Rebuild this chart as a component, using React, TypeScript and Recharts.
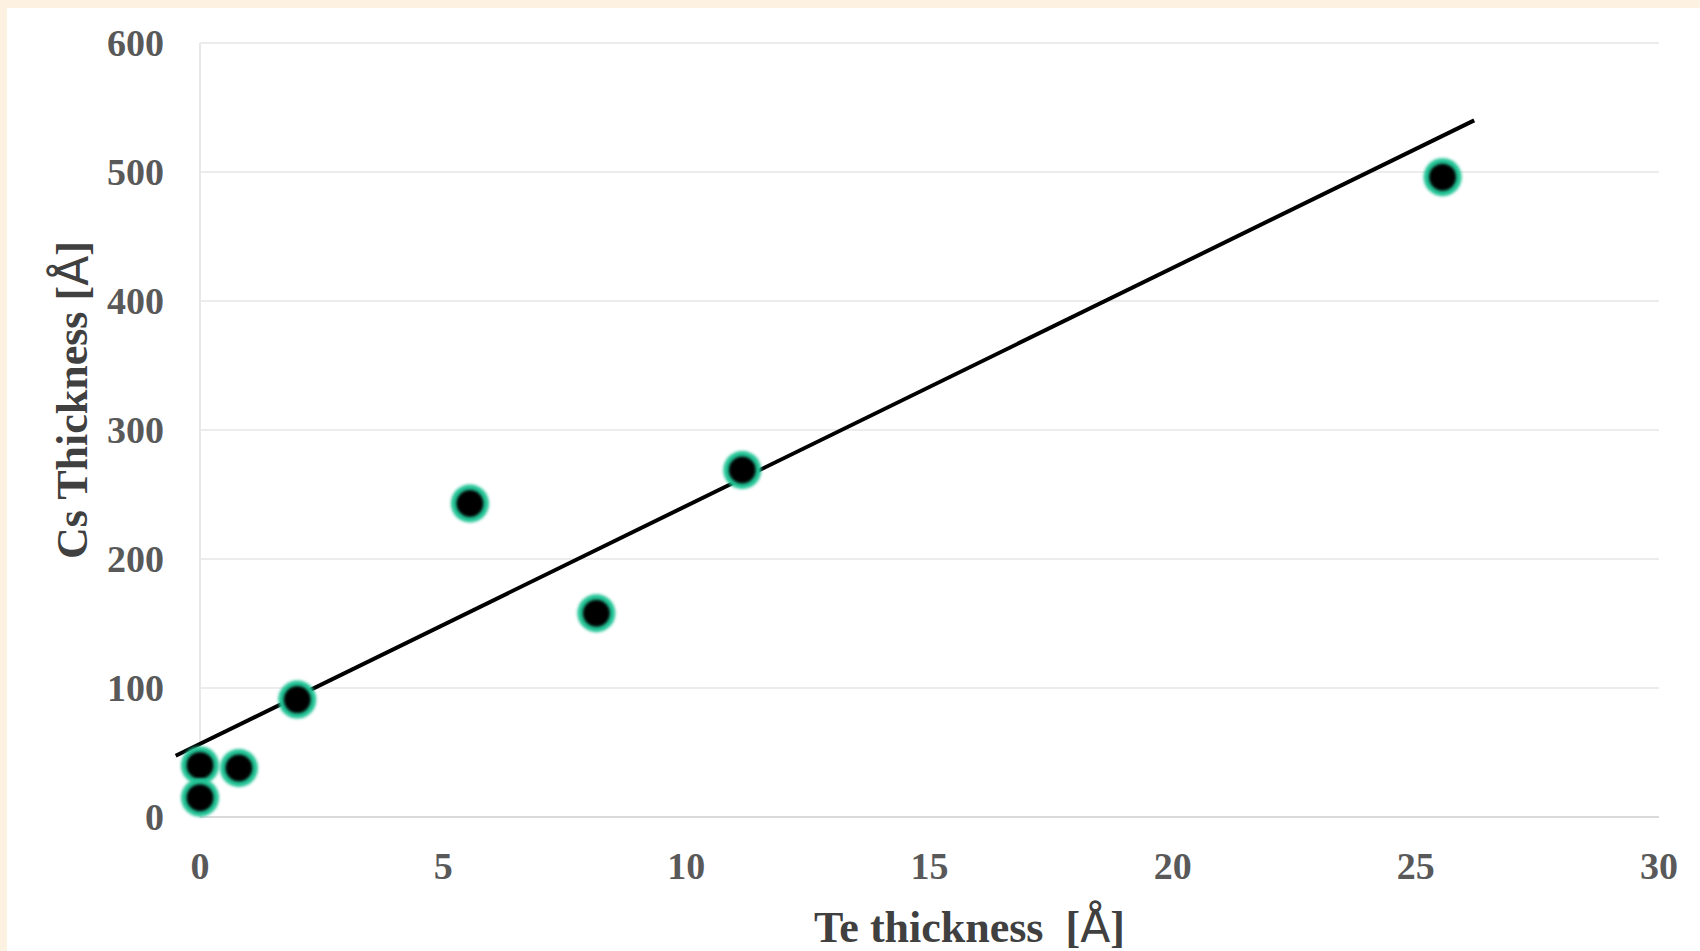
import React from 'react';
import { ScatterChart, Scatter, XAxis, YAxis, CartesianGrid, ReferenceLine } from 'recharts';

// Te thickness [Å] vs Cs thickness [Å]
const teThickness = [0, 0, 0.8, 2.0, 5.55, 8.15, 11.15, 25.55];
const csThickness = [40, 15, 38, 91, 243, 158, 269, 496];

// fitted trendline end points
const trendX = [-0.5, 26.2];
const trendY = [47.5, 540];

const xTicks = [0, 5, 10, 15, 20, 25, 30];
const yTicks = [0, 100, 200, 300, 400, 500, 600];

const points = teThickness.map((x, i) => ({ x, y: csThickness[i] }));
const trendSegment = trendX.map((x, i) => ({ x, y: trendY[i] }));

const serif = '"Liberation Serif", "Times New Roman", serif';
const tickStyle = { fontFamily: serif, fontWeight: 700, fontSize: 38, fill: '#595959' };

const Dot = (props: any) => {
  const { cx, cy, index } = props;
  if (cx == null || cy == null) return null;
  const id = `glow-${index}`;
  return (
    <g>
      <defs>
        <filter id={id} x="-50%" y="-50%" width="200%" height="200%">
          <feGaussianBlur stdDeviation="1.6" />
        </filter>
      </defs>
      <circle cx={cx} cy={cy} r={19} fill="#22c496" filter={`url(#${id})`} />
      <circle cx={cx} cy={cy} r={13.5} fill="#000" filter={`url(#${id})`} />
    </g>
  );
};

const YTitle = (props: any) => {
  const { viewBox } = props;
  const cx = viewBox.x + 72;
  const cy = viewBox.y + 357;
  return (
    <text
      x={cx}
      y={cy}
      transform={`rotate(-90 ${cx} ${cy})`}
      textAnchor="middle"
      dominantBaseline="central"
      fontFamily={serif}
      fontWeight={700}
      fontSize={44}
      fill="#404040"
    >
      Cs Thickness [<tspan fontFamily='"DejaVu Sans", sans-serif' fontWeight={400}>Å</tspan>]
    </text>
  );
};

const XTitle = (props: any) => {
  const { viewBox } = props;
  const cx = viewBox.x + viewBox.width / 2 + 40;
  return (
    <text
      x={cx}
      y={942}
      textAnchor="middle"
      fontFamily={serif}
      fontWeight={700}
      fontSize={44}
      fill="#404040"
    >
      Te thickness{'\u00a0\u00a0'}[<tspan fontFamily='"DejaVu Sans", sans-serif' fontWeight={400}>Å</tspan>]
    </text>
  );
};

export default function App() {
  return (
    <div
      style={{
        position: 'absolute',
        left: 0,
        top: 0,
        width: 1700,
        height: 951,
        background: '#fdf2e1',
        overflow: 'hidden',
      }}
    >
      <div style={{ position: 'absolute', left: 7, top: 8, right: 0, bottom: 0, background: '#fff' }} />
      <div style={{ position: 'absolute', left: 0, top: 0 }}>
        <ScatterChart width={1700} height={951} margin={{ top: 43, right: 41, bottom: 0, left: 0 }}>
          <CartesianGrid horizontal vertical={false} stroke="#ececec" strokeWidth={2} />
          <CartesianGrid horizontal={false} vertical verticalValues={[0]} stroke="#e8e8e8" strokeWidth={2} />
          <XAxis
            type="number"
            dataKey="x"
            domain={[0, 30]}
            ticks={xTicks}
            height={134}
            axisLine={{ stroke: '#dadada', strokeWidth: 2 }}
            tickLine={false}
            tickSize={0}
            tickMargin={35}
            tick={tickStyle}
            interval={0}
            label={{ content: XTitle }}
          />
          <YAxis
            type="number"
            dataKey="y"
            domain={[0, 600]}
            ticks={yTicks}
            width={200}
            axisLine={false}
            tickLine={false}
            tickSize={0}
            tickMargin={36}
            tick={tickStyle}
            interval={0}
            label={{ content: YTitle }}
          />
          <ReferenceLine
            segment={trendSegment}
            stroke="#000"
            strokeWidth={4}
            ifOverflow="visible"
          />
          <Scatter data={points} shape={Dot} isAnimationActive={false} />
        </ScatterChart>
      </div>
    </div>
  );
}
